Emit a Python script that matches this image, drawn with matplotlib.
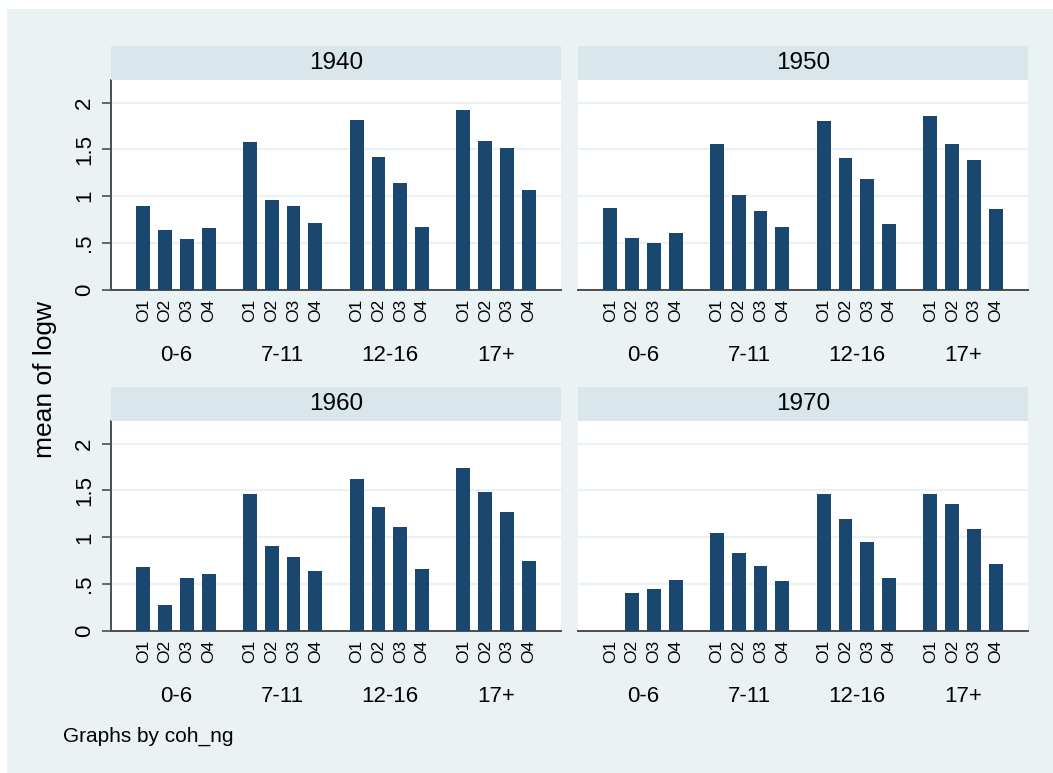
import numpy as np
import matplotlib
matplotlib.use('Agg')
import matplotlib.pyplot as plt
from matplotlib.patches import Rectangle

plt.rcParams['font.family'] = ['Liberation Sans', 'DejaVu Sans']

# Data: mean of logw by cohort, schooling group and occupation
cohorts = ['1940', '1950', '1960', '1970']
groups = ['0-6', '7-11', '12-16', '17+']
occs = ['O1', 'O2', 'O3', 'O4']

logw_1940 = [0.90, 0.64, 0.54, 0.66, 1.58, 0.96, 0.90, 0.71,
             1.81, 1.42, 1.14, 0.67, 1.92, 1.59, 1.51, 1.07]
logw_1950 = [0.87, 0.55, 0.50, 0.61, 1.56, 1.01, 0.84, 0.67,
             1.80, 1.41, 1.18, 0.70, 1.86, 1.56, 1.39, 0.86]
logw_1960 = [0.68, 0.28, 0.57, 0.61, 1.46, 0.91, 0.79, 0.64,
             1.62, 1.32, 1.11, 0.66, 1.74, 1.48, 1.27, 0.75]
logw_1970 = [np.nan, 0.41, 0.45, 0.54, 1.05, 0.83, 0.69, 0.53,
             1.46, 1.19, 0.95, 0.57, 1.46, 1.36, 1.09, 0.71]

yticks = [0, 0.5, 1, 1.5, 2]
yticklabels = ['0', '.5', '1', '1.5', '2']

panel_data = [logw_1940, logw_1950, logw_1960, logw_1970]

BAR = '#1A476F'
BG = '#EAF2F3'
STRIP = '#D9E6EB'
AXC = '#4D4D4D'

W, H = 1053, 773
fig = plt.figure(figsize=(W / 100, H / 100), dpi=100, facecolor='white')
fig.patches.append(Rectangle((7 / W, 0), 1, (H - 9) / H, transform=fig.transFigure,
                             facecolor=BG, edgecolor='none', zorder=-10))

group_step = 4.9
xpos = np.array([g * group_step + i for g in range(4) for i in range(4)])

lefts = [111, 578]
tops = [80, 421]
pw, ph, sh = 450, 210, 34

for k, (label, vals) in enumerate(zip(cohorts, panel_data)):
    r, c = divmod(k, 2)
    x0, y0 = lefts[c], tops[r]
    ax = fig.add_axes([x0 / W, 1 - (y0 + ph) / H, pw / W, ph / H])
    ax.set_facecolor('white')
    ax.bar(xpos, vals, width=0.64, color=BAR, zorder=3)
    ax.set_xlim(-1.48, 19.18)
    ax.set_ylim(0, 2.24)
    ax.set_yticks(yticks)
    ax.grid(axis='y', color=BG, linewidth=1.6, zorder=0)
    ax.set_axisbelow(True)
    for s in ['top', 'right']:
        ax.spines[s].set_visible(False)
    ax.spines['bottom'].set_color(AXC)
    ax.spines['bottom'].set_linewidth(1.4)
    ax.set_xticks(xpos)
    ax.set_xticklabels(occs * 4, rotation=90, fontsize=12.5)
    ax.tick_params(axis='x', length=0, pad=6.5)
    if c == 0:
        ax.spines['left'].set_color(AXC)
        ax.spines['left'].set_linewidth(1.4)
        ax.set_yticklabels(yticklabels, rotation=90, va='center', fontsize=16)
        ax.tick_params(axis='y', length=6.5, width=1.2, color=AXC, pad=5)
    else:
        ax.spines['left'].set_visible(False)
        ax.tick_params(axis='y', length=0, labelleft=False)
    for g, name in enumerate(groups):
        ax.annotate(name, xy=(g * group_step + 1.5, 0), xycoords=('data', 'axes fraction'),
                    xytext=(0, -47.5), textcoords='offset points',
                    ha='center', va='center', fontsize=16)
    # strip title
    sax = fig.add_axes([x0 / W, 1 - y0 / H, pw / W, sh / H])
    sax.set_facecolor(STRIP)
    sax.set_xticks([])
    sax.set_yticks([])
    for s in sax.spines.values():
        s.set_visible(False)
    sax.text(0.5, 0.5, label, ha='center', va='center', fontsize=17.5,
             transform=sax.transAxes)

fig.text(45 / W, 1 - 380 / H, 'mean of logw', rotation=90, ha='center', va='center',
         fontsize=19)
fig.text(63 / W, 1 - 736 / H, 'Graphs by coh_ng', ha='left', va='center', fontsize=15)

fig.savefig('out.png', dpi=100, facecolor='white')
